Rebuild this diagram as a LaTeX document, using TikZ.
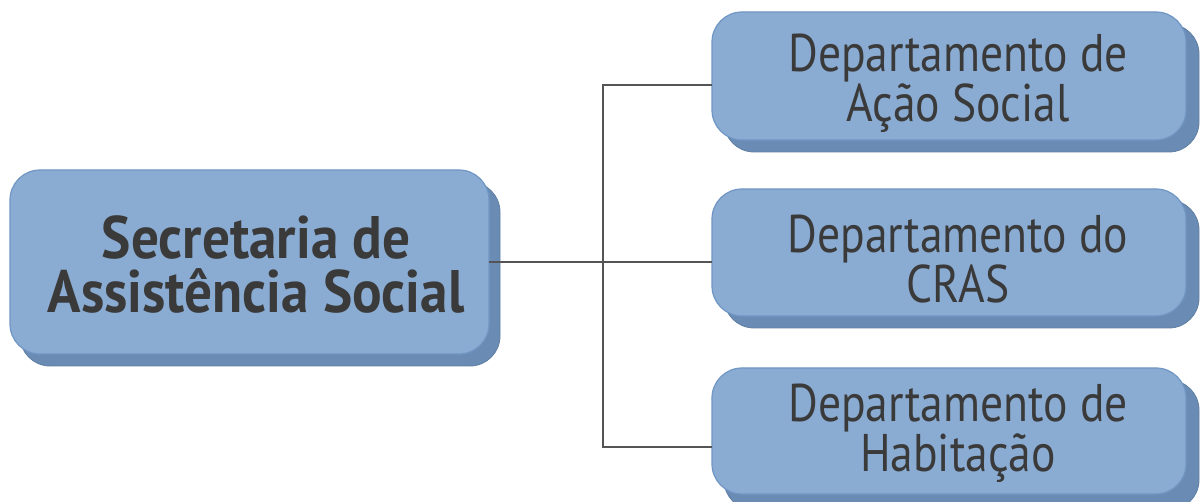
\documentclass[tikz,border=0pt]{standalone}
\usepackage{fontspec}
\setmainfont{PT Sans}[FakeStretch=0.86]
\newfontfamily\headfont{PT Sans}[FakeStretch=0.92]
\definecolor{boxfill}{HTML}{8AABD2}
\definecolor{boxedge}{HTML}{7097C3}
\definecolor{shadowfill}{HTML}{6A8CB4}
\definecolor{txt}{HTML}{3A3A3A}
\definecolor{wire}{HTML}{555555}
\tikzset{
  x=1pt,y=-1pt,
  frontbox/.style={fill=boxfill,draw=boxedge,line width=1.2pt,rounded corners=30pt},
  backbox/.style={fill=shadowfill,draw=shadowfill!90!black,line width=0.8pt,rounded corners=30pt},
  wireline/.style={draw=wire,line width=1.1pt},
  lbl/.style={text=txt,align=center,inner sep=0pt},
  mainlbl/.style={lbl,font=\headfont\fontsize{60}{54}\selectfont\bfseries},
  deptlbl/.style={lbl,font=\fontsize{53}{50}\selectfont},
}
\begin{document}
\begin{tikzpicture}
\useasboundingbox (0,0) rectangle (1200,502);
% main box
\draw[backbox] (20,182) rectangle (500,366);
\draw[frontbox] (10,170) rectangle (489,354);
\node[mainlbl] (sec) at (256,265) {Secretaria de\\Assistência Social};
\coordinate (secR) at (489,262);
% right boxes
\draw[backbox] (724,24) rectangle (1199,152);
\draw[frontbox] (712,12) rectangle (1186,140);
\node[deptlbl] (d1) at (958,83) {Departamento de\\Ação Social};
\coordinate (d1L) at (712,85);

\draw[backbox] (724,200) rectangle (1199,328);
\draw[frontbox] (712,189) rectangle (1186,316);
\node[deptlbl] (d2) at (958,259) {Departamento do\\CRAS};
\coordinate (d2L) at (712,262);

\draw[backbox] (724,380) rectangle (1199,510);
\draw[frontbox] (712,368) rectangle (1186,494);
\node[deptlbl] (d3) at (958,433) {Departamento de\\Habitação};
\coordinate (d3L) at (712,447);

% connectors
\coordinate (j) at (603,262);
\draw[wireline] (secR) -- (j);
\draw[wireline] (d1L) -- (603,85) -- (603,447) -- (d3L);
\draw[wireline] (j) -- (d2L);
\end{tikzpicture}
\end{document}
